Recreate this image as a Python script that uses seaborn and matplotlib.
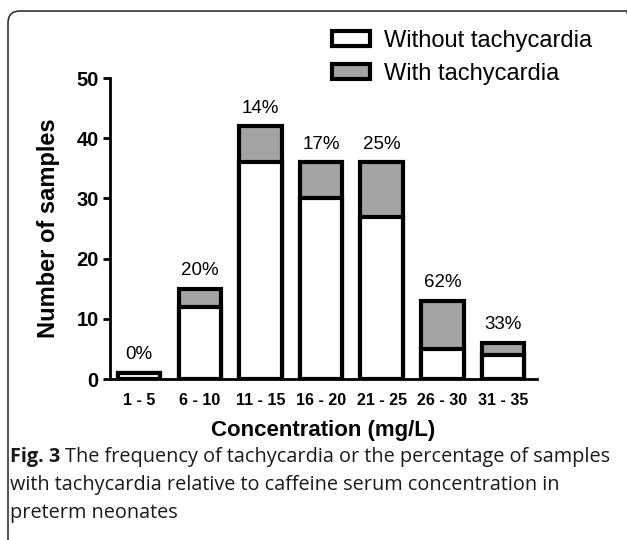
import numpy as np
import pandas as pd
import matplotlib
matplotlib.use("Agg")
import matplotlib.pyplot as plt
from matplotlib.patches import FancyBboxPatch, Patch
from matplotlib.transforms import IdentityTransform
import seaborn as sns

# ── Data ──────────────────────────────────────────
categories = ["1 - 5", "6 - 10", "11 - 15", "16 - 20", "21 - 25", "26 - 30", "31 - 35"]
without_tachy = [1, 12, 36, 30, 27, 5, 4]
with_tachy = [0, 3, 6, 6, 9, 8, 2]

df = pd.DataFrame({"conc": categories,
                   "without": without_tachy,
                   "with": with_tachy})
df["total"] = df["without"] + df["with"]
df["pct"] = (df["with"] / df["total"] * 100).round().astype(int)

# ── Style ─────────────────────────────────────────
sns.set_theme(style="ticks")
plt.rcParams["font.family"] = ["Liberation Sans", "DejaVu Sans"]
plt.rcParams["text.color"] = "black"
plt.rcParams["xtick.color"] = "black"
plt.rcParams["ytick.color"] = "black"
plt.rcParams["axes.labelcolor"] = "black"
plt.rcParams["axes.edgecolor"] = "black"

fig = plt.figure(figsize=(6.27, 5.40), dpi=100)
ax = fig.add_axes([0.1754, 0.298, 0.681, 0.5574])

grey = "#a3a3a3"
lw = 3

sns.barplot(data=df, x="conc", y="total", color=grey, width=0.7,
            edgecolor="black", linewidth=lw, saturation=1, ax=ax)
sns.barplot(data=df, x="conc", y="without", color="white", width=0.7,
            edgecolor="black", linewidth=lw, saturation=1, ax=ax)

# percentage labels above the bars
for i, row in df.iterrows():
    ax.annotate(f"{row['pct']}%", (i, row["total"]), xytext=(0, 7),
                textcoords="offset points", ha="center", va="bottom",
                fontsize=13.5)

ax.set_xlim(-0.48, 6.56)
ax.set_ylim(0, 50)
ax.set_yticks([0, 10, 20, 30, 40, 50])
sns.despine(ax=ax)
for side in ["left", "bottom"]:
    ax.spines[side].set_linewidth(2)
ax.tick_params(axis="y", length=5, width=2, pad=3, labelsize=14.5)
ax.tick_params(axis="x", length=0, pad=10, labelsize=11.5)
for lab in ax.get_xticklabels() + ax.get_yticklabels():
    lab.set_fontweight("bold")

ax.set_xlabel("Concentration (mg/L)", fontsize=16, fontweight="bold", labelpad=9)
ax.set_ylabel("Number of samples", fontsize=17, fontweight="bold", labelpad=12)

# legend
handles = [Patch(facecolor="white", edgecolor="black", linewidth=lw),
           Patch(facecolor=grey, edgecolor="black", linewidth=lw)]
fig.legend(handles, ["Without tachycardia", "With tachycardia"],
           loc="upper left", bbox_to_anchor=(0.515, 0.962), frameon=False,
           fontsize=17, handlelength=1.6, handleheight=0.6,
           handletextpad=0.6, labelspacing=0.45, borderaxespad=0)

# ── Caption ───────────────────────────────────────
cap_font = ["Open Sans", "DejaVu Sans"]
cap_size = 14.3
lines = ["The frequency of tachycardia or the percentage of samples",
         "with tachycardia relative to caffeine serum concentration in",
         "preterm neonates"]
x0 = 10 / 627
y_lines = [1 - 457 / 540, 1 - 485 / 540, 1 - 513 / 540]
t = fig.text(x0, y_lines[0], "Fig. 3", fontsize=cap_size, fontweight="bold",
             family=cap_font, va="center", color="#1a1a1a")
renderer = fig.canvas.get_renderer()
bb = t.get_window_extent(renderer)
fig.text(bb.x1 / fig.bbox.width + 0.008, y_lines[0], lines[0], fontsize=cap_size,
         family=cap_font, va="center", color="#1a1a1a")
for ln, yy in zip(lines[1:], y_lines[1:]):
    fig.text(x0, yy, ln, fontsize=cap_size, family=cap_font, va="center",
             color="#1a1a1a")

# rounded frame around the figure
frame = FancyBboxPatch((8, -30), 630, 529 + 30, boxstyle="round,pad=0,rounding_size=12",
                       transform=IdentityTransform(), facecolor="none",
                       edgecolor="#333333", linewidth=1.2)
fig.patches.append(frame)

fig.savefig("out.png", dpi=100)
